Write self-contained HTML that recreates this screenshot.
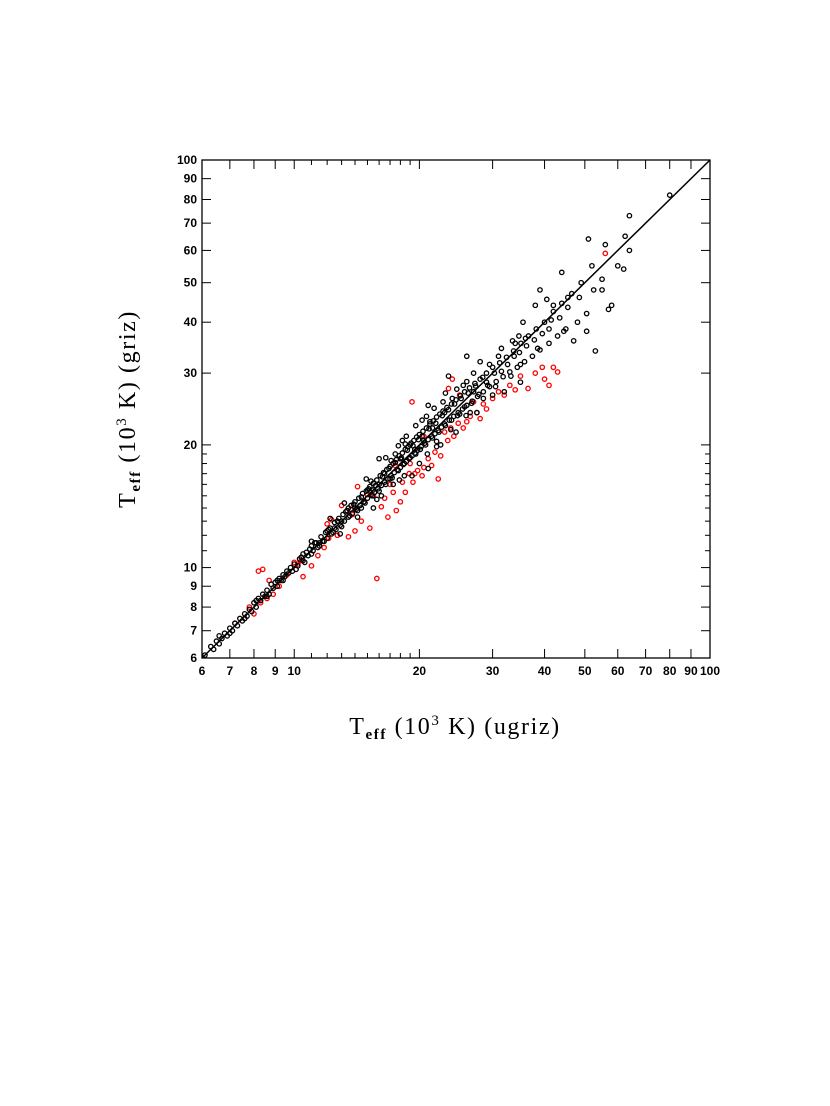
<!DOCTYPE html>
<html><head><meta charset="utf-8"><style>
html,body{margin:0;padding:0;background:#fff;}
svg{display:block;}
.tl{font-family:"Liberation Sans",sans-serif;font-size:12px;font-weight:bold;fill:#000;}
.tt{font-family:"Liberation Serif",serif;font-size:24px;letter-spacing:1.6px;fill:#000;}
</style></head><body>
<svg id="chart" width="830" height="1106" viewBox="0 0 830 1106">
<rect x="202" y="160" width="508" height="498" fill="none" stroke="#000" stroke-width="1.3"/>
<g id="ticks"></g>
<g id="marks"></g>
<text class="tt" x="455" y="734" text-anchor="middle">T<tspan font-size="15" font-weight="bold" dy="5">eff</tspan><tspan dy="-5"> (10</tspan><tspan font-size="15" dy="-9">3</tspan><tspan dy="9"> K)  (ugriz)</tspan></text>
<text class="tt" transform="translate(135,409) rotate(-90)" text-anchor="middle">T<tspan font-size="15" font-weight="bold" dy="5">eff</tspan><tspan dy="-5"> (10</tspan><tspan font-size="15" dy="-9">3</tspan><tspan dy="9"> K)  (griz)</tspan></text>
</svg>
<script>
const majorTicks=[6,7,8,9,10,20,30,40,50,60,70,80,90,100];
const minorTicks=[11,12,13,14,15,16,17,18,19];
const blackX=[6.1,6.3,6.4,6.5,6.6,6.6,6.7,6.8,6.9,7.0,7.1,7.2,7.3,7.4,7.5,7.6,7.7,7.8,7.9,8.0,8.1,8.2,8.3,8.4,8.5,8.6,8.7,8.8,8.9,9.0,9.1,9.2,9.3,9.4,9.5,9.6,9.7,9.8,9.9,
10.0,10.2,10.4,10.5,10.7,10.8,11.0,11.1,11.3,11.4,11.6,11.7,11.9,12.0,12.2,12.3,12.5,12.6,12.8,12.9,13.1,13.2,13.4,13.5,13.7,13.8,14.0,14.1,14.3,14.4,14.6,14.7,14.9,15.0,15.2,15.3,15.5,15.6,15.8,15.9,16.1,16.2,16.4,16.5,16.7,16.8,17.0,17.1,17.3,17.4,17.6,17.7,17.9,18.0,18.2,18.3,18.5,18.6,18.8,18.9,19.1,19.2,19.4,19.5,19.7,19.8,20.0,20.2,20.4,20.6,20.8,21.0,21.2,21.4,21.6,21.8,22.0,22.2,22.4,22.6,22.8,23.0,23.3,23.6,23.9,24.2,24.5,24.8,25.1,25.4,25.7,26.0,26.4,26.8,27.2,27.6,28.0,28.5,29.0,29.5,30.0,30.6,31.2,31.8,32.4,33.0,33.7,34.4,35.1,35.8,36.6,37.4,38.2,39.0,40.0,41.0,42.0,43.0,44.0,45.0,46.5,48.0,49.0,50.5,52.0,53.0,55.0,56.0,57.0,58.0,62.0,62.5,64.0,64.0,80.0,51.0,44.0,39.0,35.5,26.0,21.0,18.6,16.0,50.5,52.5,47.0,55.0,60.0,42.0,38.0,34.0,30.0,29.0,27.0,25.0,24.0,23.0,22.0,21.5,20.5,20.0,19.5,19.0,18.0,17.5,17.0,16.5,16.0,15.5,15.0,14.5,14.0,13.5,13.0,12.5,12.0,11.5,11.0,10.5,23.5,25.5,28.0,31.0,33.5,36.0,40.5,45.5,24.5,26.5,32.0,35.0,22.5,27.5,21.0,19.2,17.3,15.5,18.2,20.8,22.8];
const blackY=[6.1,6.4,6.3,6.6,6.5,6.8,6.7,6.9,6.8,7.1,7.0,7.3,7.2,7.5,7.4,7.7,7.6,7.9,7.8,8.2,8.0,8.4,8.3,8.6,8.5,8.8,8.6,9.1,8.9,9.2,9.0,9.4,9.3,9.6,9.5,9.8,9.7,10.0,9.8,
10.2,10.1,10.6,10.4,10.9,10.7,11.3,11.0,11.5,11.2,11.9,11.6,12.2,11.8,12.5,12.1,12.9,12.4,13.2,12.7,13.5,13.0,13.8,13.3,14.2,13.6,14.5,13.9,14.8,14.2,15.2,14.5,15.4,14.8,15.8,15.1,16.1,15.3,16.4,15.6,16.8,15.9,17.1,16.2,17.4,16.5,17.7,16.8,18.0,17.1,18.4,17.4,18.8,17.6,19.1,17.9,19.5,18.2,19.8,18.5,20.2,18.8,20.5,19.1,20.9,19.4,21.2,19.8,21.6,20.2,22.0,20.6,22.5,21.0,22.9,21.3,23.4,21.7,23.8,22.1,24.2,22.5,24.7,23.0,25.2,23.5,25.8,24.0,26.4,24.5,27.0,25.0,27.6,25.6,28.3,26.3,29.0,27.0,30.0,27.8,31.0,28.6,31.8,29.4,32.8,30.2,34.0,31.0,35.5,32.0,37.0,33.0,38.5,34.2,40.0,35.5,42.5,37.0,44.5,38.5,47.0,40.0,50.0,42.0,55.0,34.0,51.0,62.0,43.0,44.0,54.0,65.0,73.0,60.0,82.0,64.0,53.0,48.0,40.0,33.0,25.0,21.0,18.5,38.0,48.0,36.0,48.0,55.0,44.0,44.0,35.5,26.5,28.5,27.0,23.8,26.0,24.0,19.8,22.0,20.5,18.0,19.5,20.0,18.5,19.0,16.5,17.0,16.0,15.5,15.5,14.0,14.0,14.0,13.0,12.5,12.3,11.5,10.8,10.8,29.5,28.0,32.0,33.0,36.0,36.5,45.5,46.0,21.5,24.0,27.0,28.5,20.0,24.0,17.5,16.8,16.0,14.0,20.5,23.5,25.5];
const blackX2=[10.1,10.3,10.6,10.9,11.2,11.5,11.8,12.1,12.4,12.7,13.0,13.3,13.6,13.9,14.2,14.5,14.8,15.1,15.4,15.7,16.0,16.3,16.6,16.9,17.2,17.5,17.8,18.1,18.4,18.7,19.0,19.3,19.6,19.9,20.1,20.3,20.7,21.1,21.5,21.9,22.3,22.7,23.1,23.5,23.9,24.3,24.7,25.2,25.7,26.2,26.7,27.3,27.8,28.4,29.2,30.3,31.5,32.6,33.8,34.8,36.2,37.8,39.5,41.5,43.5,45.5,48.5,16.6,17.8,19.6,20.3,21.7,23.1,24.6,14.9,13.2,12.2,16.2,18.4,20.9,22.0,23.8,25.9,28.5,30.5,33.2,12.9,14.2,15.8,17.9,9.1,8.6,8.1,7.6,7.0,9.4,11.0,15.3,17.1,18.5,21.2,26.0,27.0,29.5,31.5,34.7,35.0,38.5,41.0,44.5];
const blackY2=[9.9,10.5,10.3,11.1,11.5,11.3,11.6,12.4,12.2,13.0,12.6,13.7,13.4,14.3,13.8,14.9,14.4,15.6,15.0,15.9,15.4,16.7,16.0,17.5,16.6,18.1,17.3,18.6,18.0,19.4,18.6,19.9,19.0,20.6,19.5,21.0,20.0,21.9,20.8,22.6,21.5,23.6,22.3,24.4,23.0,25.2,23.6,26.0,24.8,26.8,25.3,27.9,26.6,29.3,28.0,30.0,30.3,31.5,33.0,33.7,35.0,36.2,37.5,40.5,41.0,43.5,46.0,18.6,19.9,22.3,23.0,24.6,26.8,27.4,16.5,14.4,13.2,15.0,16.8,19.0,20.4,21.8,23.6,26.0,27.8,29.5,12.1,13.3,14.7,16.4,9.3,8.5,8.3,7.5,6.9,9.3,11.6,16.3,18.3,20.1,22.8,28.6,30.0,31.5,34.5,37.0,31.5,34.5,38.5,38.0];
const redX=[7.2,7.6,7.8,8.0,8.2,8.4,8.3,8.6,8.7,8.9,9.2,9.6,10.0,10.2,10.5,10.4,11.0,11.4,12.0,12.3,12.1,12.7,13.0,13.5,14.0,14.2,14.5,15.0,15.2,15.8,16.2,16.8,17.0,17.3,17.6,18.0,18.2,18.5,18.9,19.3,19.5,19.2,19.8,20.3,20.5,21.0,21.4,21.8,22.2,22.5,23.0,23.4,23.8,24.2,24.8,25.5,26.0,26.5,27.0,27.5,28.0,28.5,29.0,30.0,31.0,32.0,33.0,34.0,35.0,36.5,38.0,40.0,41.0,42.0,43.0,39.5,25.0,24.0,23.5,20.5,19.0,17.5,16.5,15.5,13.8,11.8,56.0,13.7];
const redY=[7.3,7.5,8.0,7.7,9.8,9.9,8.2,8.4,9.3,8.6,9.0,9.6,10.3,10.2,9.5,10.4,10.1,10.7,12.8,13.1,11.8,12.0,14.2,11.9,12.3,15.8,13.0,15.1,12.5,9.4,14.1,13.3,16.0,15.3,13.8,14.5,16.2,15.3,17.0,16.2,17.0,25.5,17.3,16.8,17.6,18.5,17.8,19.2,16.5,18.8,21.5,20.5,22.0,21.0,22.6,22.0,22.8,23.5,25.5,24.0,23.2,25.2,24.5,26.0,27.0,26.5,28.0,27.3,29.5,27.5,30.0,29.0,28.0,31.0,30.2,31.0,26.5,29.0,27.5,21.0,18.0,17.8,14.8,15.0,13.5,11.2,59.0,13.9];
const L=202,R=710,T=160,B=658,lo=Math.log10(6),hi=2;
function xs(v){return L+(Math.log10(v)-lo)/(hi-lo)*(R-L);}
function ys(v){return B-(Math.log10(v)-lo)/(hi-lo)*(B-T);}
const NS='http://www.w3.org/2000/svg';
const tg=document.getElementById('ticks'),mg=document.getElementById('marks');
function line(g,x1,y1,x2,y2,w,name){const l=document.createElementNS(NS,'line');
l.setAttribute('x1',x1);l.setAttribute('y1',y1);l.setAttribute('x2',x2);l.setAttribute('y2',y2);
l.setAttribute('stroke','#000');l.setAttribute('stroke-width',w);


g.appendChild(l);return l;}
function txt(x,y,s,anchor,name){const t=document.createElementNS(NS,'text');
t.setAttribute('x',x);t.setAttribute('y',y);t.setAttribute('class','tl');t.setAttribute('text-anchor',anchor);t.textContent=s;


tg.appendChild(t);}
majorTicks.forEach(v=>{const x=xs(v),y=ys(v);
line(tg,x,B,x,B-9,1,'x-major-tick');line(tg,x,T,x,T+9,1,'x-major-tick-top');
line(tg,L,y,L+9,y,1,'y-major-tick');line(tg,R,y,R-9,y,1,'y-major-tick-right');
txt(x,B+17,String(v),'middle','x-tick-label');txt(L-5,y+4,String(v),'end','y-tick-label');});
minorTicks.forEach(v=>{const x=xs(v),y=ys(v);
line(tg,x,B,x,B-5,1,'x-minor-tick');line(tg,x,T,x,T+5,1,'x-minor-tick-top');
line(tg,L,y,L+5,y,1,'y-minor-tick');line(tg,R,y,R-5,y,1,'y-minor-tick-right');});
line(mg,xs(6),ys(6),xs(100),ys(100),1.5,'one-to-one-line');
function pts(X,Y,col,name){for(let i=0;i<X.length;i++){const c=document.createElementNS(NS,'circle');
c.setAttribute('cx',xs(X[i]));c.setAttribute('cy',ys(Y[i]));c.setAttribute('r',2.2);
c.setAttribute('fill','none');c.setAttribute('stroke',col);c.setAttribute('stroke-width',1.3);


mg.appendChild(c);}}
pts(redX,redY,'#ff0000','red-point');
pts(blackX,blackY,'#000','black-point');
pts(blackX2,blackY2,'#000','black-point');
</script>
</body></html>
